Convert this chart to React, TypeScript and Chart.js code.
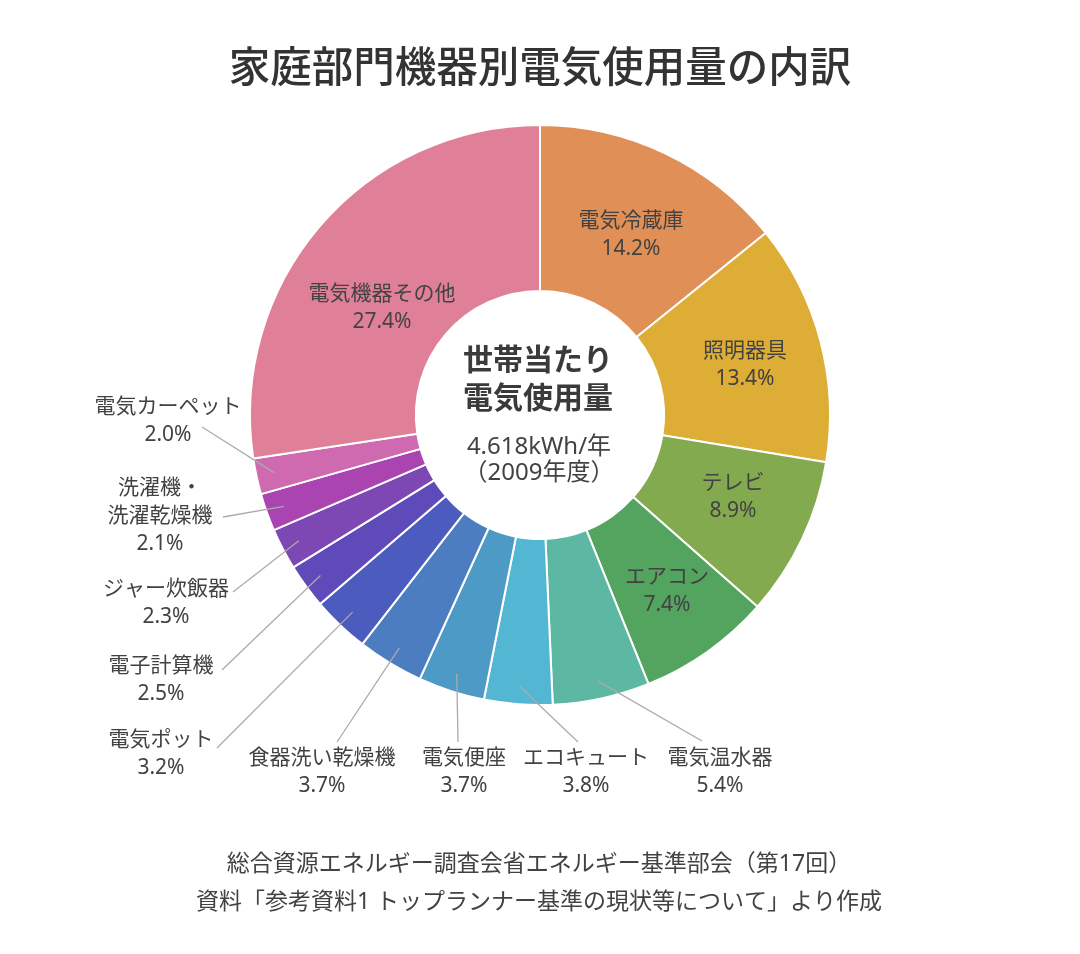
import React, { useEffect, useRef } from 'react';
import { Chart, registerables } from 'chart.js';

Chart.register(...registerables);

// ---- data ----
const categories = [
  '電気冷蔵庫', '照明器具', 'テレビ', 'エアコン', '電気温水器', 'エコキュート', '電気便座',
  '食器洗い乾燥機', '電気ポット', '電子計算機', 'ジャー炊飯器', '洗濯機・洗濯乾燥機', '電気カーペット', '電気機器その他',
];
const shares = [14.2, 13.4, 8.9, 7.4, 5.4, 3.8, 3.7, 3.7, 3.2, 2.5, 2.3, 2.1, 2.0, 27.4];
const labelLines = [
  ['電気冷蔵庫'], ['照明器具'], ['テレビ'], ['エアコン'], ['電気温水器'], ['エコキュート'], ['電気便座'],
  ['食器洗い乾燥機'], ['電気ポット'], ['電子計算機'], ['ジャー炊飯器'], ['洗濯機・', '洗濯乾燥機'], ['電気カーペット'], ['電気機器その他'],
];
const sliceColors = [
  '#E08F56', '#DEAD35', '#84AA4F', '#53A45E', '#5CB8A2', '#53B7D4', '#4E9AC6',
  '#4B7DC0', '#4B5BBE', '#5E4AB8', '#7E48B4', '#AA44B0', '#CF6AB0', '#DF8098',
];
const titleText = '家庭部門機器別電気使用量の内訳';
const centerTitle = ['世帯当たり', '電気使用量'];
const centerSub = ['4.618kWh/年', '（2009年度）'];
const sourceLines = [
  '総合資源エネルギー調査会省エネルギー基準部会（第17回）',
  '資料「参考資料1 トップランナー基準の現状等について」より作成',
];

// ---- label layout (text position; leader end if outside) ----
const labelLayout = [
  { x: 631, y: 221, inside: true },
  { x: 745, y: 351, inside: true },
  { x: 733, y: 483, inside: true },
  { x: 667, y: 577, inside: true },
  { x: 720, y: 758, inside: false, lx: 702, ly: 741 },
  { x: 586, y: 758, inside: false, lx: 578, ly: 742 },
  { x: 464, y: 758, inside: false, lx: 458, ly: 742 },
  { x: 322, y: 758, inside: false, lx: 337, ly: 742 },
  { x: 161, y: 740, inside: false, lx: 217, ly: 748 },
  { x: 161, y: 666, inside: false, lx: 222, ly: 670 },
  { x: 166, y: 589, inside: false, lx: 233, ly: 592 },
  { x: 160, y: 488, inside: false, lx: 223, ly: 517 },
  { x: 168, y: 407, inside: false, lx: 202, ly: 427 },
  { x: 382, y: 294, inside: true },
];

const FONT = '"Noto Sans", "Noto Sans CJK JP", sans-serif';
const TEXT = '#424242';

const labelPlugin = {
  id: 'customLabels',
  afterDatasetsDraw(chart: any) {
    const ctx = chart.ctx as CanvasRenderingContext2D;
    const meta = chart.getDatasetMeta(0);
    ctx.save();
    ctx.textAlign = 'center';
    ctx.textBaseline = 'middle';
    const lineH = 28;
    meta.data.forEach((arc: any, i: number) => {
      const p = arc.getProps(['x', 'y', 'startAngle', 'endAngle', 'outerRadius', 'innerRadius'], true);
      const lay = labelLayout[i];
      if (!lay.inside) {
        const mid = (p.startAngle + p.endAngle) / 2;
        const r = p.outerRadius - 18;
        ctx.strokeStyle = '#ababab';
        ctx.lineWidth = 1.3;
        ctx.beginPath();
        ctx.moveTo(p.x + Math.cos(mid) * r, p.y + Math.sin(mid) * r);
        ctx.lineTo(lay.lx, lay.ly);
        ctx.stroke();
      }
      const lines = [...labelLines[i], shares[i].toFixed(1) + '%'];
      ctx.fillStyle = TEXT;
      ctx.font = `21px ${FONT}`;
      lines.forEach((t, k) => ctx.fillText(t, lay.x, lay.y + k * lineH));
    });
    // center text
    const c = meta.data[0].getProps(['x', 'y'], true);
    ctx.fillStyle = '#3a3a3a';
    ctx.font = `bold 30px ${FONT}`;
    ctx.fillText(centerTitle[0], c.x - 2, c.y - 54);
    ctx.fillText(centerTitle[1], c.x - 2, c.y - 16);
    ctx.fillStyle = TEXT;
    ctx.font = `24px ${FONT}`;
    ctx.fillText(centerSub[0], c.x - 1, c.y + 32);
    ctx.fillText(centerSub[1], c.x - 1, c.y + 58);

    // title
    ctx.fillStyle = '#333';
    ctx.font = `500 41.5px "Noto Sans CJK JP", sans-serif`;
    ctx.fillText(titleText, 540, 66);
    // source
    ctx.fillStyle = TEXT;
    ctx.font = `23px ${FONT}`;
    ctx.fillText(sourceLines[0], 539, 864);
    ctx.fillText(sourceLines[1], 539, 902);
    ctx.restore();
  },
};

export default function App() {
  const ref = useRef<HTMLCanvasElement>(null);
  useEffect(() => {
    if (!ref.current) return;
    const chart = new Chart(ref.current, {
      type: 'doughnut',
      data: {
        labels: categories,
        datasets: [{
          data: shares,
          backgroundColor: sliceColors,
          borderColor: '#ffffff',
          borderWidth: 2,
        }],
      },
      options: {
        responsive: false,
        animation: false,
        cutout: '42.8%',
        layout: { padding: { left: 249, right: 249, top: 124, bottom: 248 } },
        plugins: {
          legend: { display: false },
          tooltip: { enabled: false },
        },
      },
      plugins: [labelPlugin],
    });
    return () => chart.destroy();
  }, []);
  return (
    <div style={{ position: 'absolute', left: 0, top: 0, width: 1080, height: 954, background: '#fff' }}>
      <canvas ref={ref} width={1080} height={954} />
    </div>
  );
}
